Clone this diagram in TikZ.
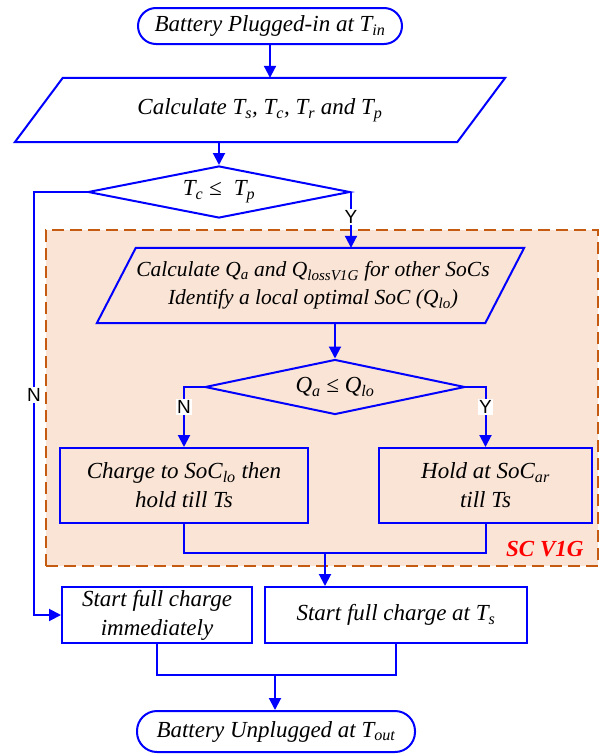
\documentclass[tikz,border=0pt]{standalone}
\usepackage{fontspec}
\setmainfont{Liberation Serif}
\newfontfamily\labfont{Liberation Sans}
\usetikzlibrary{arrows.meta,shapes.geometric}
\definecolor{fb}{RGB}{0,0,255}
\definecolor{grpfill}{RGB}{250,228,214}
\definecolor{grpline}{RGB}{197,90,17}
\begin{document}
\begin{tikzpicture}[x=1pt,y=-1pt,
  every node/.style={font=\fontsize{23}{29}\selectfont\itshape},
  ln/.style={draw=fb, line width=2pt},
  arr/.style={ln, -{Triangle[length=12pt,width=12pt]}},
  term/.style={ln, rounded corners=18pt, inner sep=0pt},
  proc/.style={ln, inner sep=0pt, align=center},
  ghost/.style={inner sep=0pt, align=center},
  dia/.style={ln, diamond, aspect=5, inner sep=0pt},
  yn/.style={fill=white, inner sep=1.5pt, font=\labfont\fontsize{19}{19}\selectfont},
  grp/.style={draw=grpline, fill=grpfill, line width=2pt, dash pattern=on 12pt off 6pt, inner sep=0pt}
]
\useasboundingbox (0,0) rectangle (603,755);
% group box
\node[grp, minimum width=552pt, minimum height=336pt] (grp) at (322,398) {};
\node[font=\fontsize{23}{26}\selectfont\bfseries\itshape, text=red, anchor=east] (grplab) at (587,549) {SC V1G};

% nodes
\node[term, minimum width=264pt, minimum height=36pt] (t1) at (270,26) {Battery Plugged-in at T\textsubscript{in}};
\node[ghost, minimum width=490pt, minimum height=64pt] (p1) at (260,110) {Calculate T\textsubscript{s}, T\textsubscript{c}, T\textsubscript{r} and T\textsubscript{p}};
\draw[ln] ([xshift=48pt]p1.north west) -- (p1.north east) -- ([xshift=-48pt]p1.south east) -- (p1.south west) -- cycle;
\node[dia, minimum width=262pt, minimum height=52pt] (d1) at (219,192) {T\textsubscript{c} ≤ \;T\textsubscript{p}};

\node[ghost, minimum width=427pt, minimum height=75pt] (p2) at (310.5,285.5) {};
\node[ghost, font=\fontsize{21.5}{28}\selectfont\itshape] (p2t) at (313,285.5) {Calculate Q\textsubscript{a} and Q\textsubscript{lossV1G} for other SoCs\\Identify a local optimal SoC (Q\textsubscript{lo})};
\draw[ln] ([xshift=39pt]p2.north west) -- (p2.north east) -- ([xshift=-39pt]p2.south east) -- (p2.south west) -- cycle;
\node[dia, minimum width=260pt, minimum height=55pt] (d2) at (335,387) {Q\textsubscript{a} ≤ Q\textsubscript{lo}};
\node[proc, minimum width=248pt, minimum height=75pt] (b1) at (184,485.5) {Charge to SoC\textsubscript{lo} then\\hold till Ts};
\node[proc, minimum width=213pt, minimum height=75pt] (b2) at (485.5,485.5) {Hold at SoC\textsubscript{ar}\\till Ts};

\node[proc, minimum width=190pt, minimum height=56pt] (b3) at (157,615) {Start full charge\\immediately};
\node[proc, minimum width=262pt, minimum height=56pt] (b4) at (396,615) {Start full charge at T\textsubscript{s}};
\node[term, minimum width=278pt, minimum height=41pt, rounded corners=20pt] (t2) at (276,731.5) {Battery Unplugged at T\textsubscript{out}};

% connectors
\draw[arr] (t1.south) -- (t1.south |- p1.north);
\draw[arr] (d1.north |- p1.south) -- (d1.north);
\draw[arr] (d1.east) -- node[yn, pos=0.45] {Y} (d1.east |- p2.north);
\draw[arr] (d1.west) -- ++(-53,0) |- node[yn, pos=0.24] {N} (b3.west);
\draw[arr] (d2.north |- p2.south) -- (d2.north);
\draw[arr] (d2.west) -| node[yn, pos=0.67] {N} (b1.north);
\draw[arr] (d2.east) -| node[yn, pos=0.67] {Y} (b2.north);
\coordinate (m1) at (325,553);
\draw[ln] (b1.south) -- (b1.south |- m1) -| (b2.south);
\draw[arr] (m1) -- (m1 |- b4.north);
\coordinate (m2) at (275,675);
\draw[ln] (b3.south) -- (b3.south |- m2) -| (b4.south);
\draw[arr] (m2) -- (m2 |- t2.north);
\end{tikzpicture}
\end{document}
